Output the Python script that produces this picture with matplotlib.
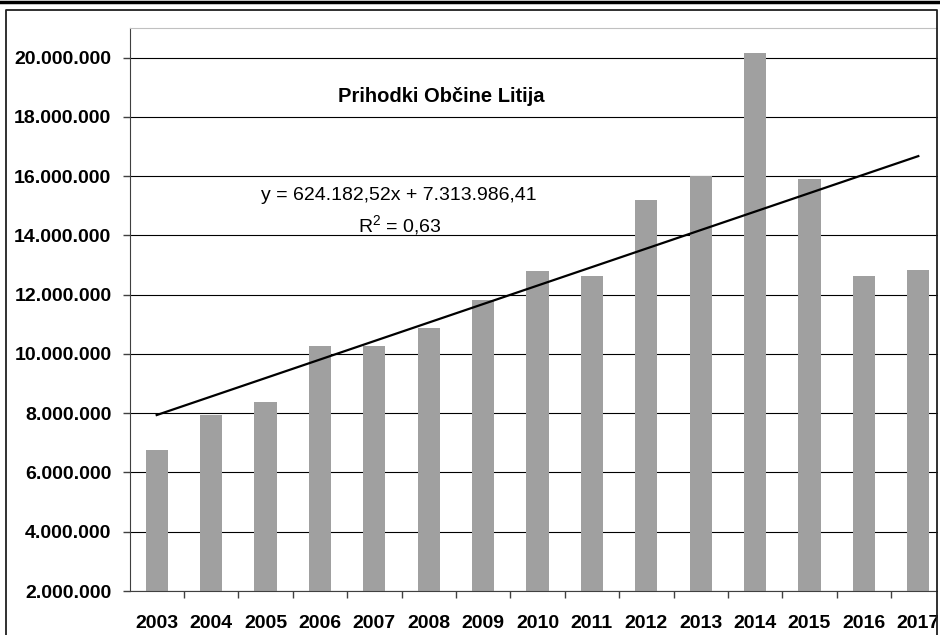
import matplotlib.pyplot as plt
import numpy as np
from matplotlib.lines import Line2D
from matplotlib.patches import Rectangle

plt.rcParams['font.family'] = ['Liberation Sans', 'DejaVu Sans']

# Data
years = ['2003', '2004', '2005', '2006', '2007', '2008', '2009', '2010',
         '2011', '2012', '2013', '2014', '2015', '2016', '2017']
revenue = [6750000, 7930000, 8380000, 10260000, 10260000, 10870000, 11810000,
           12790000, 12620000, 15180000, 15990000, 20170000, 15890000,
           12620000, 12820000]
trend_slope = 624182.52
trend_intercept = 7313986.41
y_ticks = [2000000, 4000000, 6000000, 8000000, 10000000, 12000000,
           14000000, 16000000, 18000000, 20000000]

W, H = 940, 635
fig = plt.figure(figsize=(9.4, 6.35), dpi=100)
fig.patch.set_facecolor('white')

# Plot area (extends past the right edge, like the original)
ax = fig.add_axes([129.5 / W, 44 / H, 816 / W, 563 / H])

x = np.arange(len(years))
ax.bar(x, revenue, width=0.41, color='#a0a0a0', zorder=2)

# Linear trendline over positions 1..n
xt = np.arange(1, len(years) + 1)
ax.plot(x, trend_slope * xt + trend_intercept, color='black', lw=1.6, zorder=3)

ax.set_xlim(-0.5, len(years) - 0.5)
ax.set_ylim(2000000, 21000000)
ax.set_yticks(y_ticks)
ax.set_yticklabels([f"{v:,.0f}".replace(',', '.') for v in y_ticks],
                   fontsize=14, fontweight='bold')
ax.yaxis.grid(True, color='black', lw=0.8, zorder=1)
ax.set_axisbelow(True)

# category labels centred, tick marks on the boundaries
ax.set_xticks(x)
ax.set_xticklabels(years, fontsize=14, fontweight='bold')
ax.tick_params(axis='x', length=0, pad=17.5)
ax.set_xticks(np.arange(0.5, len(years) - 0.5), minor=True)
ax.tick_params(axis='x', which='minor', length=5, color='#404040', width=1)
ax.tick_params(axis='y', length=5, color='#404040', width=1, pad=8)

ax.spines['left'].set_color('#404040')
ax.spines['bottom'].set_color('#404040')
ax.spines['top'].set_color('#c0c0c0')
ax.spines['right'].set_visible(False)

ax.text(441 / W, 1 - 97 / H, 'Prihodki Občine Litija', transform=fig.transFigure,
        ha='center', va='center', fontsize=14.5, fontweight='bold')
ax.text(399 / W, 1 - 195 / H, 'y = 624.182,52x + 7.313.986,41',
        transform=fig.transFigure, ha='center', va='center', fontsize=14)
ax.text(400 / W, 1 - 225 / H, 'R$^2$ = 0,63', transform=fig.transFigure,
        ha='center', va='center', fontsize=14)
plt.rcParams['mathtext.fontset'] = 'custom'
plt.rcParams['mathtext.rm'] = 'Liberation Sans'
plt.rcParams['mathtext.default'] = 'regular'

# white margin to the right of the frame, thick top line, outer frame
fig.add_artist(Rectangle((937.5 / W, 0), 3 / W, 1, transform=fig.transFigure,
                         facecolor='white', edgecolor='none', zorder=5))
fig.add_artist(Line2D([0, 1], [1 - 1.5 / H, 1 - 1.5 / H],
                      transform=fig.transFigure, color='black', lw=2.5, zorder=6))
fig.add_artist(Line2D([6 / W, 6 / W, 937 / W, 937 / W],
                      [0, 1 - 10 / H, 1 - 10 / H, 0],
                      transform=fig.transFigure, color='#202020', lw=1.3, zorder=6))

plt.savefig('out.png', dpi=100, facecolor='white')
plt.close()
